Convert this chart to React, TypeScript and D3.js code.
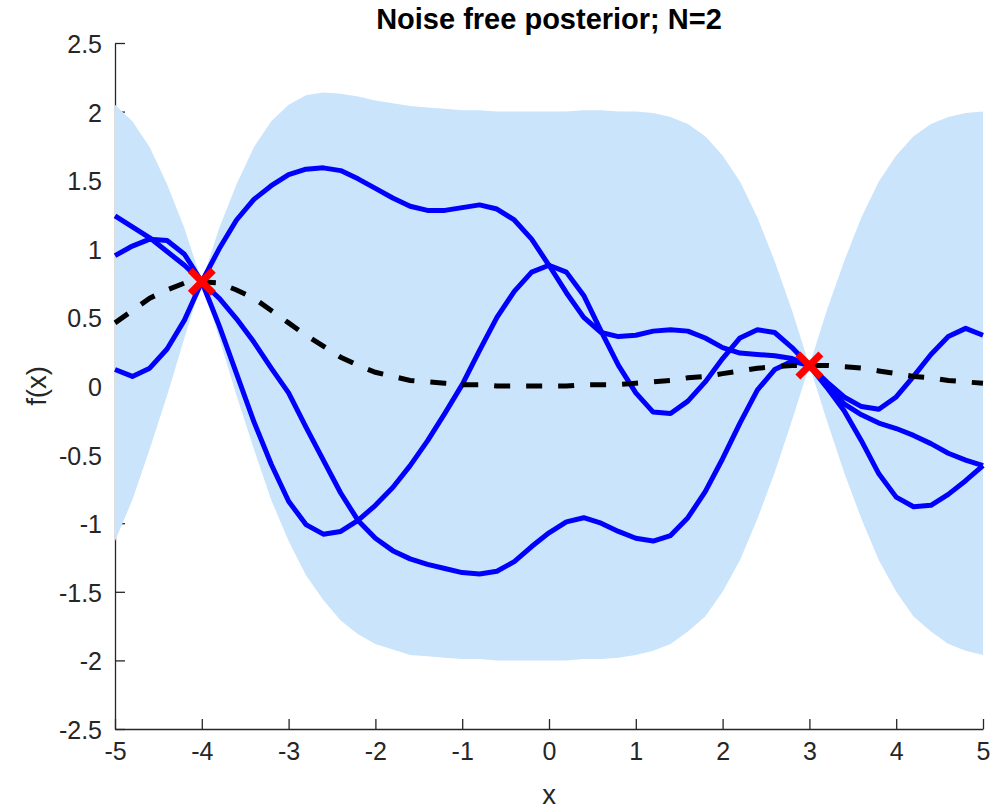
import React, { useEffect, useRef } from "react";
import * as d3 from "d3";

// test grid (step 0.2)
const xGrid = [
  -5.0, -4.8, -4.6, -4.4, -4.2, -4.0, -3.8, -3.6, -3.4, -3.2, -3.0, -2.8, -2.6,
  -2.4, -2.2, -2.0, -1.8, -1.6, -1.4, -1.2, -1.0, -0.8, -0.6, -0.4, -0.2, 0.0,
  0.2, 0.4, 0.6, 0.8, 1.0, 1.2, 1.4, 1.6, 1.8, 2.0, 2.2, 2.4, 2.6, 2.8, 3.0,
  3.2, 3.4, 3.6, 3.8, 4.0, 4.2, 4.4, 4.6, 4.8, 5.0,
];

// posterior mean
const meanF = [
  0.46, 0.55, 0.64, 0.7, 0.75, 0.76, 0.75, 0.7, 0.64, 0.55, 0.46, 0.37, 0.29,
  0.21, 0.15, 0.1, 0.07, 0.04, 0.03, 0.02, 0.01, 0.01, 0.0, 0.0, 0.0, 0.0, 0.0,
  0.01, 0.01, 0.01, 0.02, 0.03, 0.04, 0.06, 0.07, 0.09, 0.11, 0.13, 0.14, 0.15,
  0.15, 0.15, 0.14, 0.13, 0.11, 0.09, 0.07, 0.06, 0.04, 0.03, 0.02,
];

// mean +/- 2 sd
const bandUpper = [
  2.05, 1.93, 1.74, 1.47, 1.15, 0.76, 1.15, 1.47, 1.74, 1.93, 2.05, 2.12, 2.14,
  2.13, 2.11, 2.08, 2.06, 2.04, 2.03, 2.02, 2.01, 2.01, 2.0, 2.0, 2.0, 2.0, 2.0,
  2.01, 2.01, 2.0, 2.0, 1.99, 1.96, 1.91, 1.82, 1.68, 1.49, 1.23, 0.91, 0.55,
  0.15, 0.55, 0.91, 1.23, 1.49, 1.68, 1.82, 1.91, 1.96, 1.99, 2.0,
];
const bandLower = [
  -1.13, -0.83, -0.46, -0.07, 0.35, 0.76, 0.35, -0.07, -0.46, -0.83, -1.13,
  -1.38, -1.56, -1.71, -1.81, -1.88, -1.92, -1.96, -1.97, -1.98, -1.99, -1.99,
  -2.0, -2.0, -2.0, -2.0, -2.0, -1.99, -1.99, -1.98, -1.96, -1.93, -1.88, -1.79,
  -1.68, -1.5, -1.27, -0.97, -0.63, -0.25, 0.15, -0.25, -0.63, -0.97, -1.27,
  -1.5, -1.68, -1.79, -1.88, -1.93, -1.96,
];

// three posterior samples
const sampleA = [
  1.24, 1.16, 1.08, 0.98, 0.88, 0.76, 0.64, 0.49, 0.32, 0.13, -0.05, -0.3,
  -0.54, -0.78, -0.98, -1.11, -1.2, -1.26, -1.3, -1.33, -1.36, -1.37, -1.35,
  -1.28, -1.17, -1.07, -0.99, -0.96, -1.0, -1.06, -1.11, -1.13, -1.09, -0.96,
  -0.77, -0.53, -0.27, -0.03, 0.12, 0.18, 0.15, 0.02, -0.13, -0.21, -0.27,
  -0.31, -0.36, -0.42, -0.49, -0.54, -0.58,
];
const sampleB = [
  0.95, 1.02, 1.07, 1.06, 0.96, 0.76, 0.44, 0.09, -0.26, -0.57, -0.84, -1.01,
  -1.08, -1.06, -0.98, -0.87, -0.74, -0.58, -0.4, -0.2, 0.01, 0.26, 0.5, 0.69,
  0.83, 0.88, 0.83, 0.66, 0.4, 0.15, -0.05, -0.19, -0.2, -0.11, 0.03, 0.2,
  0.35, 0.41, 0.39, 0.28, 0.15, -0.01, -0.18, -0.4, -0.64, -0.81, -0.88,
  -0.87, -0.79, -0.69, -0.58,
];
const sampleC = [
  0.12, 0.07, 0.13, 0.27, 0.48, 0.76, 1.0, 1.21, 1.36, 1.46, 1.54, 1.58, 1.59,
  1.57, 1.51, 1.44, 1.37, 1.31, 1.28, 1.28, 1.3, 1.32, 1.29, 1.21, 1.07, 0.88,
  0.68, 0.5, 0.39, 0.36, 0.37, 0.4, 0.41, 0.4, 0.35, 0.28, 0.24, 0.23, 0.22,
  0.2, 0.15, 0.03, -0.08, -0.15, -0.17, -0.08, 0.07, 0.23, 0.36, 0.42, 0.37,
];

// training points
const trainX = [-4, 3];
const trainY = [0.76, 0.15];

const xTicks = [-5, -4, -3, -2, -1, 0, 1, 2, 3, 4, 5];
const yTicks = [-2.5, -2, -1.5, -1, -0.5, 0, 0.5, 1, 1.5, 2, 2.5];

function App() {
  const svgRef = useRef(null);

  useEffect(() => {
    const svg = d3.select(svgRef.current);
    svg.selectAll("*").remove();
    const font = "'Liberation Sans', Arial, Helvetica, sans-serif";
    const axisColor = "#262626";
    const margin = { top: 43, right: 18, bottom: 82, left: 115 };
    const width = 1001;
    const height = 811;

    const xScale = d3
      .scaleLinear()
      .domain([-5, 5])
      .range([margin.left, width - margin.right]);
    const yScale = d3
      .scaleLinear()
      .domain([-2.5, 2.5])
      .range([height - margin.bottom, margin.top]);

    // axes (drawn below the band, like the original)
    const xAxis = d3
      .axisBottom(xScale)
      .tickValues(xTicks)
      .tickSizeInner(-10)
      .tickSizeOuter(0)
      .tickPadding(28)
      .tickFormat((d) => String(d));
    const gx = svg
      .append("g")
      .attr("transform", `translate(0, ${height - margin.bottom})`)
      .call(xAxis);
    gx.select(".domain").attr("stroke", axisColor).attr("stroke-width", 1.3);
    gx.selectAll(".tick line").attr("stroke", axisColor).attr("stroke-width", 1.3);
    gx.selectAll(".tick text")
      .attr("fill", axisColor)
      .attr("font-family", font)
      .attr("font-size", 25)
      .attr("dy", "0.1em");

    const yAxis = d3
      .axisLeft(yScale)
      .tickValues(yTicks)
      .tickSizeInner(-10)
      .tickSizeOuter(0)
      .tickPadding(13)
      .tickFormat((d) => String(d));
    const gy = svg
      .append("g")
      .attr("transform", `translate(${margin.left}, 0)`)
      .call(yAxis);
    gy.select(".domain").attr("stroke", axisColor).attr("stroke-width", 1.3);
    gy.selectAll(".tick line").attr("stroke", axisColor).attr("stroke-width", 1.3);
    gy.selectAll(".tick text")
      .attr("fill", axisColor)
      .attr("font-family", font)
      .attr("font-size", 25)
      .attr("dy", "0.38em");

    // +/- 2 sd band
    const areaGen = d3
      .area()
      .x((d, i) => xScale(xGrid[i]))
      .y0((d, i) => yScale(bandLower[i]))
      .y1((d, i) => yScale(bandUpper[i]));
    svg
      .append("path")
      .datum(xGrid)
      .attr("fill", "#CAE4FB")
      .attr("stroke", "none")
      .attr("d", areaGen);

    const lineGen = d3
      .line()
      .x((d, i) => xScale(xGrid[i]))
      .y((d) => yScale(d));

    // samples
    [sampleA, sampleB, sampleC].forEach((s) => {
      svg
        .append("path")
        .datum(s)
        .attr("fill", "none")
        .attr("stroke", "#0000FF")
        .attr("stroke-width", 5)
        .attr("stroke-linejoin", "round")
        .attr("d", lineGen);
    });

    // mean
    svg
      .append("path")
      .datum(meanF)
      .attr("fill", "none")
      .attr("stroke", "#000000")
      .attr("stroke-width", 5)
      .attr("stroke-dasharray", "16,16")
      .attr("d", lineGen);

    // training points
    svg
      .selectAll(".obs")
      .data(trainX)
      .enter()
      .append("path")
      .attr("class", "obs")
      .attr(
        "transform",
        (d, i) => `translate(${xScale(d)}, ${yScale(trainY[i])})`
      )
      .attr("d", "M-11.5,-11.5L11.5,11.5M-11.5,11.5L11.5,-11.5")
      .attr("stroke", "#FF0000")
      .attr("stroke-width", 7)
      .attr("fill", "none");

    // title
    svg
      .append("text")
      .attr("x", xScale(0))
      .attr("y", 29)
      .attr("text-anchor", "middle")
      .attr("font-family", font)
      .attr("font-weight", "bold")
      .attr("font-size", 29)
      .attr("fill", "#000")
      .text("Noise free posterior; N=2");

    // x label
    svg
      .append("text")
      .attr("x", xScale(0))
      .attr("y", 804)
      .attr("text-anchor", "middle")
      .attr("font-family", font)
      .attr("font-size", 27.5)
      .attr("fill", axisColor)
      .text("x");

    // y label
    svg
      .append("text")
      .attr("transform", `translate(46, ${yScale(0)}) rotate(-90)`)
      .attr("text-anchor", "middle")
      .attr("font-family", font)
      .attr("font-size", 27.5)
      .attr("fill", axisColor)
      .text("f(x)");
  }, []);

  return (
    <svg
      ref={svgRef}
      width={1001}
      height={811}
      style={{ position: "absolute", left: 0, top: 0, background: "#fff" }}
    ></svg>
  );
}

export default App;
